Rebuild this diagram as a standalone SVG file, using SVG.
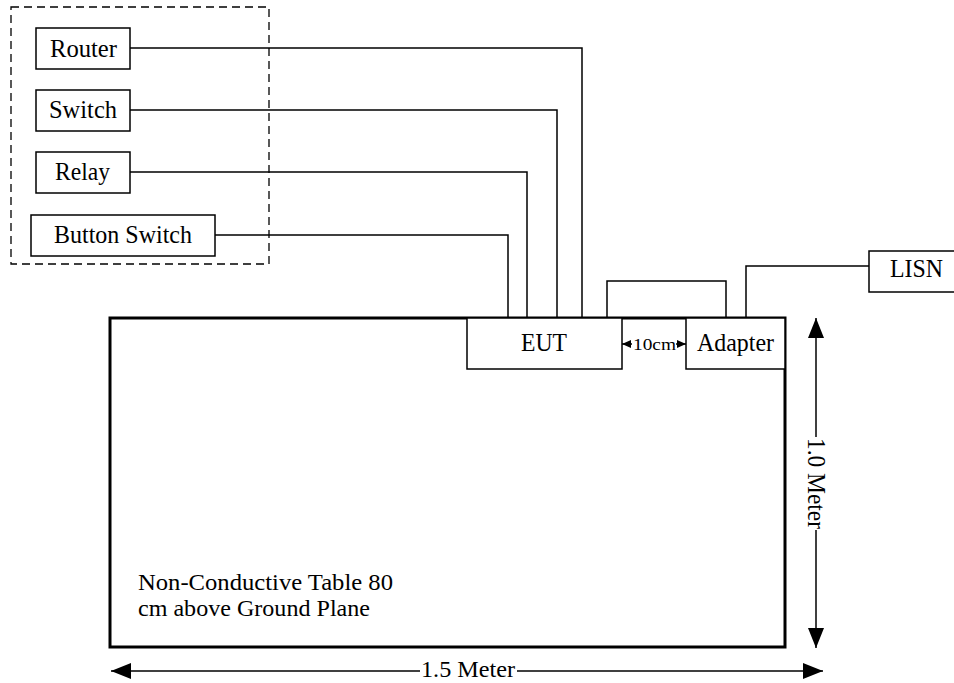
<svg xmlns="http://www.w3.org/2000/svg" width="954" height="683" viewBox="0 0 954 683">
<style>
.box{fill:#fff;stroke:#000;stroke-width:1.5}
.lbl{font-family:"Liberation Serif","Times New Roman",serif;font-size:26px;fill:#000}
.tl{font-family:"Liberation Serif","Times New Roman",serif;font-size:23px;fill:#000}
.wire{fill:none;stroke:#000;stroke-width:1.5}
.dim{fill:none;stroke:#000;stroke-width:1.5}
</style>
<defs>
<marker id="ah" viewBox="0 0 20 16" refX="20" refY="8" markerWidth="20" markerHeight="16" markerUnits="userSpaceOnUse" orient="auto-start-reverse">
<path d="M0,0 L20,8 L0,16 Z" fill="#000"/>
</marker>
<marker id="sah" viewBox="0 0 9 8" refX="9" refY="4" markerWidth="9" markerHeight="8" markerUnits="userSpaceOnUse" orient="auto-start-reverse">
<path d="M0,0 L9,4 L0,8 Z" fill="#000"/>
</marker>
</defs>
<rect width="954" height="683" fill="#fff"/>

<g id="group">
<rect x="11" y="7" width="258" height="257" fill="none" stroke="#000" stroke-width="1.3" stroke-dasharray="8,5"/>
</g>

<g id="table">
<rect x="110" y="318" width="675" height="329" fill="#fff" stroke="#000" stroke-width="3"/>
<text class="tl" x="138" y="590" textLength="255" lengthAdjust="spacingAndGlyphs">Non-Conductive Table 80</text>
<text class="tl" x="138" y="616" textLength="232" lengthAdjust="spacingAndGlyphs">cm above Ground Plane</text>
</g>

<g id="connectors">
<polyline class="wire" points="130,48 582,48 582,318"/>
<polyline class="wire" points="130,110 557,110 557,318"/>
<polyline class="wire" points="130,172 527,172 527,318"/>
<polyline class="wire" points="215,235 508,235 508,318"/>
<polyline class="wire" points="607,318 607,281 726,281 726,318"/>
<polyline class="wire" points="746,318 746,266 869,266"/>
<line class="dim" x1="622" y1="344" x2="686" y2="344" marker-start="url(#sah)" marker-end="url(#sah)"/>
<line class="dim" x1="111" y1="671" x2="420" y2="671" marker-start="url(#ah)"/>
<line class="dim" x1="517" y1="671" x2="823" y2="671" marker-end="url(#ah)"/>
<line class="dim" x1="816" y1="318" x2="816" y2="437" marker-start="url(#ah)"/>
<line class="dim" x1="816" y1="530" x2="816" y2="648" marker-end="url(#ah)"/>
</g>

<g id="router"><rect class="box" x="36" y="28" width="94" height="41"/><text class="lbl" x="50" y="57" textLength="67" lengthAdjust="spacingAndGlyphs">Router</text></g>
<g id="switch"><rect class="box" x="36" y="90" width="94" height="41"/><text class="lbl" x="49" y="118" textLength="68" lengthAdjust="spacingAndGlyphs">Switch</text></g>
<g id="relay"><rect class="box" x="36" y="152" width="94" height="41"/><text class="lbl" x="55" y="180" textLength="55" lengthAdjust="spacingAndGlyphs">Relay</text></g>
<g id="button-switch"><rect class="box" x="31" y="215" width="184" height="41"/><text class="lbl" x="54" y="243" textLength="138" lengthAdjust="spacingAndGlyphs">Button Switch</text></g>

<g id="eut"><rect class="box" x="467" y="318" width="155" height="51"/><text class="lbl" x="521" y="351" textLength="46" lengthAdjust="spacingAndGlyphs">EUT</text></g>
<g id="adapter"><rect class="box" x="686" y="318" width="99" height="51"/><text class="lbl" x="697" y="351" textLength="77" lengthAdjust="spacingAndGlyphs">Adapter</text></g>
<g id="lisn"><rect class="box" x="869" y="251" width="90" height="41"/><text class="lbl" x="890" y="277" textLength="53" lengthAdjust="spacingAndGlyphs">LISN</text></g>

<g id="labels">
<rect x="632" y="333" width="44" height="22" fill="#fff"/>
<text x="633" y="350" font-family="Liberation Serif, serif" font-size="17" fill="#000" textLength="43" lengthAdjust="spacingAndGlyphs">10cm</text>
<text x="421" y="677" font-family="Liberation Serif, serif" font-size="24" fill="#000" textLength="94" lengthAdjust="spacingAndGlyphs">1.5 Meter</text>
<text class="lbl" transform="translate(816,437) rotate(90)" x="1" y="8" textLength="91" lengthAdjust="spacingAndGlyphs">1.0 Meter</text>
</g>
</svg>
